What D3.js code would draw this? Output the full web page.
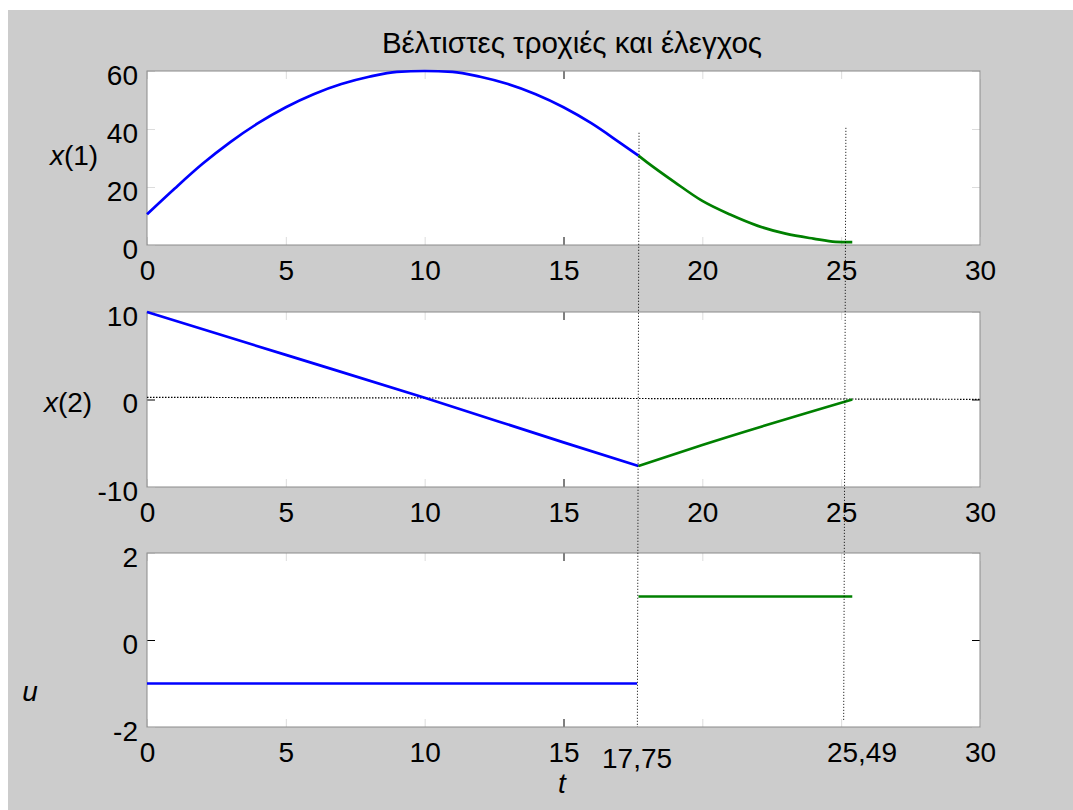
<!DOCTYPE html>
<html>
<head>
<meta charset="utf-8">
<script src="https://cdn.jsdelivr.net/npm/d3@7"></script>
<style>
  html, body { margin: 0; padding: 0; background: #fff; }
  svg { display: block; }
  text { font-family: "Liberation Sans", Arial, sans-serif; fill: #000; }
</style>
</head>
<body>
<div id="chart"></div>
<script>
// tick values
const xTicks = [0, 5, 10, 15, 20, 25, 30];
const xTickLabelsLast = [0, 5, 10, 15, 30];
const x1Ticks = [0, 20, 40, 60];
const x2Ticks = [-10, 0, 10];
const uTicks = [-2, 0, 2];

// phase 1 (u = -1), blue
const tBlueX1 = [0, 1, 2, 3, 4, 5, 6, 7, 8, 9, 10, 11, 12, 13, 14, 15, 16, 17, 17.7];
const x1Blue = [10.6, 19.5, 28, 35.5, 42, 47.5, 52, 55.5, 58, 59.7, 60, 59.7, 58, 55.5, 52, 47.5, 42, 35.5, 30.8];
const tBlueX2 = [0, 5, 10, 15, 17.7];
const x2Blue = [10, 5.1, 0.2, -4.9, -7.6];
const tBlueU = [0, 17.65];
const uBlue = [-1, -1];

// phase 2 (u = +1), green
const tGreenX1 = [17.7, 18, 19, 20, 21, 22, 23, 24, 24.8, 25.4];
const x1Green = [30.8, 28.6, 21.7, 15.2, 10.5, 6.6, 3.9, 2.2, 1.1, 1.0];
const tGreenX2 = [17.7, 20, 25.4];
const x2Green = [-7.6, -5.2, 0];
const tGreenU = [17.7, 25.4];
const uGreen = [1, 1];

// switching instants (dotted markers through all three panels)
const switchLabels = ["17,75", "25,49"];
const switchTTop = [17.72, 25.17];
const switchTBottom = [17.66, 25.09];
const switchX1Top = [38.7, 40.4];
const switchUBottom = [-2, -1.88];
const switchLabelT = [17.65, 25.75];

// x(2) = 0 reference line
const zeroT = [0, 30];
const zeroX2 = [0.25, 0.02];

const W = 1073, H = 810;
const left = 147, right = 980;
const panels = [
    { top: 71, bottom: 245, domain: [0, 60], ticks: x1Ticks, label: "1", labelX: 74, labelY: 165 },
    { top: 312, bottom: 487, domain: [-10, 10], ticks: x2Ticks, label: "2", labelX: 68, labelY: 412 },
    { top: 553, bottom: 727, domain: [-2, 2], ticks: uTicks, label: null }
];
const FS = 28;
const lightTick = "#dcdcdc";
const fmt = d => String(d); // plain hyphen minus, no decimals

const svg = d3.select("#chart")
    .append("svg")
    .attr("width", W)
    .attr("height", H);

// figure background
svg.append("rect")
    .attr("x", 8).attr("y", 10)
    .attr("width", W - 8).attr("height", H - 10)
    .attr("fill", "#cccccc");

const x = d3.scaleLinear().domain([0, 30]).range([left, right]);

panels.forEach((p, i) => {
    p.y = d3.scaleLinear().domain(p.domain).range([p.bottom, p.top]);
    const g = svg.append("g");

    g.append("rect")
        .attr("x", left).attr("y", p.top)
        .attr("width", right - left).attr("height", p.bottom - p.top)
        .attr("fill", "#fff");

    // bottom axis with labels
    const bottom = g.append("g")
        .attr("transform", "translate(0," + p.bottom + ")")
        .call(d3.axisBottom(x)
            .tickValues(xTicks)
            .tickSize(-8)
            .tickPadding(15)
            .tickFormat(d => (i === 2 && xTickLabelsLast.indexOf(d) < 0) ? "" : fmt(d)));
    const top = g.append("g")
        .attr("transform", "translate(0," + p.top + ")")
        .call(d3.axisTop(x).tickValues(xTicks).tickSize(-8).tickFormat(""));
    const leftAx = g.append("g")
        .attr("transform", "translate(" + left + ",0)")
        .call(d3.axisLeft(p.y)
            .tickValues(p.ticks)
            .tickSize(-8)
            .tickPadding(9)
            .tickFormat(fmt));
    const rightAx = g.append("g")
        .attr("transform", "translate(" + right + ",0)")
        .call(d3.axisRight(p.y).tickValues(p.ticks).tickSize(-8).tickFormat(""));

    [bottom, top, leftAx, rightAx].forEach(a => {
        a.select(".domain").remove();
        a.selectAll(".tick line").attr("stroke", lightTick);
        a.selectAll("text").attr("font-size", FS).attr("font-family", null);
    });
    leftAx.selectAll("text").attr("dy", "0.47em");

    // the darker ticks
    bottom.selectAll(".tick line").filter(d => d === 15).attr("stroke", "#000");
    top.selectAll(".tick line").filter(d => d === 15).attr("stroke", "#000");
    if (i > 0) {
        leftAx.selectAll(".tick line").filter(d => d === 0).attr("stroke", "#000");
        rightAx.selectAll(".tick line").filter(d => d === 0).attr("stroke", "#000");
    }

    g.append("rect")
        .attr("x", left).attr("y", p.top)
        .attr("width", right - left).attr("height", p.bottom - p.top)
        .attr("fill", "none")
        .attr("stroke", "#8a8a8a")
        .attr("stroke-width", 1);

    // y label  x(1), x(2)
    if (p.label) {
        const lab = svg.append("text")
            .attr("x", p.labelX).attr("y", p.labelY)
            .attr("font-size", FS)
            .attr("text-anchor", "middle");
        lab.append("tspan").attr("font-style", "italic").text("x");
        lab.append("tspan").text("(" + p.label + ")");
    }
});

const [p1, p2, p3] = panels;

svg.append("text")
    .attr("x", 30).attr("y", 701)
    .attr("font-size", FS)
    .attr("font-style", "italic")
    .attr("text-anchor", "middle")
    .text("u");

svg.append("text")
    .attr("x", 562).attr("y", 793)
    .attr("font-size", FS)
    .attr("font-style", "italic")
    .attr("text-anchor", "middle")
    .text("t");

svg.append("text")
    .attr("x", 572).attr("y", 53)
    .attr("font-size", 29.5)
    .attr("text-anchor", "middle")
    .text("Βέλτιστες τροχιές και έλεγχος");

// dotted reference line x(2) = 0
svg.append("path")
    .datum(d3.zip(zeroT, zeroX2))
    .attr("fill", "none")
    .attr("stroke", "#000")
    .attr("stroke-width", 1.2)
    .attr("stroke-dasharray", "1.5,1.5")
    .attr("d", d3.line().x(d => x(d[0])).y(d => p2.y(d[1])));

const curves = [
    { t: tBlueX1, v: x1Blue, p: p1, c: "#0000ff" },
    { t: tBlueX2, v: x2Blue, p: p2, c: "#0000ff" },
    { t: tBlueU, v: uBlue, p: p3, c: "#0000ff" },
    { t: tGreenX1, v: x1Green, p: p1, c: "#008000" },
    { t: tGreenX2, v: x2Green, p: p2, c: "#008000" },
    { t: tGreenU, v: uGreen, p: p3, c: "#008000" }
];

curves.forEach(cv => {
    svg.append("path")
        .datum(d3.zip(cv.t, cv.v))
        .attr("fill", "none")
        .attr("stroke", cv.c)
        .attr("stroke-width", 2.7)
        .attr("d", d3.line().curve(d3.curveMonotoneX).x(d => x(d[0])).y(d => cv.p.y(d[1])));
});

// switching markers
switchLabels.forEach((lbl, k) => {
    svg.append("line")
        .attr("x1", x(switchTTop[k])).attr("y1", p1.y(switchX1Top[k]))
        .attr("x2", x(switchTBottom[k])).attr("y2", p3.y(switchUBottom[k]))
        .attr("stroke", "#000")
        .attr("stroke-width", 1)
        .attr("stroke-dasharray", "1,2");
    svg.append("text")
        .attr("x", x(switchLabelT[k]))
        .attr("y", p3.bottom + (k === 0 ? 41 : 35))
        .attr("font-size", FS)
        .attr("text-anchor", "middle")
        .text(lbl);
});
</script>
</body>
</html>
